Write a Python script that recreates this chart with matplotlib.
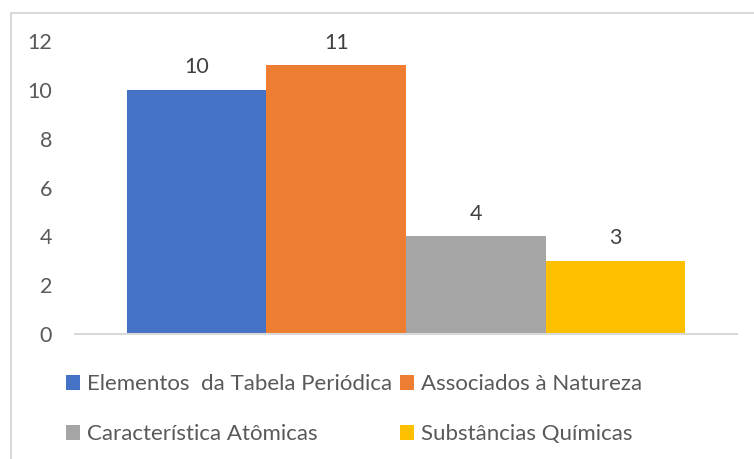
import numpy as np
import matplotlib.pyplot as plt
from matplotlib.patches import Rectangle

plt.rcParams['font.family'] = ['Lato', 'DejaVu Sans']

# dados
series = ["Elementos  da Tabela Periódica", "Associados à Natureza",
          "Característica Atômicas", "Substâncias Químicas"]
values = [10, 11, 4, 3]
colors = ["#4472c4", "#ed7d31", "#a5a5a5", "#ffc000"]
yticks = [0, 2, 4, 6, 8, 10, 12]

text_color = "#595959"
line_color = "#d9d9d9"

fig = plt.figure(figsize=(7.54, 4.59), dpi=100)
ax = fig.add_axes([75/754, 125/459, 662/754, 293/459])

x = np.arange(len(values))
bars = []
for i in range(len(values)):
    b = ax.bar(x[i], values[i], width=1.0, color=colors[i], label=series[i])
    bars.append(b)
    ax.annotate(str(values[i]), (x[i], values[i]), xytext=(0, 9),
                textcoords="offset points", ha="center", va="bottom",
                fontsize=15.5, color="#404040")

ax.set_xlim(-0.872, 3.872)
ax.set_ylim(0, 12)
ax.set_yticks(yticks)
ax.set_xticks([])
ax.tick_params(axis="y", length=0, labelsize=15.5, labelcolor=text_color, pad=16.5)
for s in ["top", "right", "left"]:
    ax.spines[s].set_visible(False)
ax.spines["bottom"].set_color(line_color)
ax.spines["bottom"].set_linewidth(1.5)

# legenda (duas colunas)
order = [0, 2, 1, 3]
leg = fig.legend([bars[i] for i in order], [series[i] for i in order],
                 ncol=2, loc="upper left", bbox_to_anchor=(66/754, 1 - 374/459),
                 frameon=False, fontsize=16, labelcolor=text_color,
                 handlelength=0.65, handleheight=0.65, handletextpad=0.3,
                 columnspacing=0.35, labelspacing=1.35, borderaxespad=0,
                 borderpad=0)

# moldura do gráfico
fig.add_artist(Rectangle((11/754, -0.1), 1.2, 1 - 13/459 + 0.1,
                         transform=fig.transFigure, fill=False,
                         edgecolor=line_color, linewidth=1.5))

fig.savefig("out.png", dpi=100)
